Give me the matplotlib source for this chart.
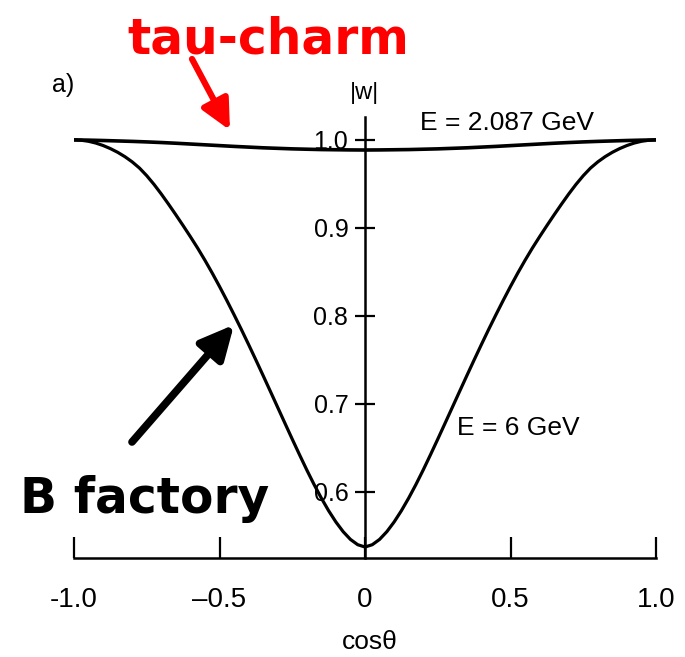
import matplotlib
matplotlib.use("Agg")
import matplotlib.pyplot as plt

# |w| versus cos(theta); curves are symmetric, so only the left half is listed
cos_half = [-1.000, -0.975, -0.950, -0.925, -0.900, -0.875, -0.850, -0.825,
            -0.800, -0.775, -0.750, -0.725, -0.700, -0.675, -0.650, -0.625,
            -0.600, -0.575, -0.550, -0.525, -0.500, -0.475, -0.450, -0.425,
            -0.400, -0.375, -0.350, -0.325, -0.300, -0.275, -0.250, -0.225,
            -0.200, -0.175, -0.150, -0.125, -0.100, -0.075, -0.050, -0.025, 0.000]

# E = 6 GeV
w6_half = [1.0000, 0.9996, 0.9984, 0.9964, 0.9936, 0.9901, 0.9859, 0.9809,
           0.9750, 0.9680, 0.9593, 0.9494, 0.9385, 0.9269, 0.9149, 0.9026,
           0.8900, 0.8770, 0.8632, 0.8487, 0.8335, 0.8177, 0.8014, 0.7847,
           0.7675, 0.7500, 0.7322, 0.7142, 0.6961, 0.6780, 0.6600, 0.6423,
           0.6250, 0.6085, 0.5930, 0.5787, 0.5659, 0.5549, 0.5461, 0.5401, 0.5375]

# E = 2.087 GeV
cos_half_tc = [-1.00, -0.95, -0.90, -0.85, -0.80, -0.75, -0.70, -0.65, -0.60, -0.55,
               -0.50, -0.45, -0.40, -0.35, -0.30, -0.25, -0.20, -0.15, -0.10, -0.05, 0.00]
wtc_half = [1.0000, 0.9997, 0.9993, 0.9988, 0.9983, 0.9977, 0.9970, 0.9962, 0.9953, 0.9944,
            0.9935, 0.9926, 0.9918, 0.9910, 0.9904, 0.9898, 0.9894, 0.9890, 0.9888, 0.9886, 0.9885]

cos_theta = cos_half + [-c for c in cos_half[-2::-1]]
w_6gev = w6_half + w6_half[-2::-1]
cos_theta_tc = cos_half_tc + [-c for c in cos_half_tc[-2::-1]]
w_2087 = wtc_half + wtc_half[-2::-1]

x_ticks = [-1.0, -0.5, 0.0, 0.5, 1.0]
x_labels = ["-1.0", "\u20130.5", "0", "0.5", "1.0"]
y_ticks = [0.6, 0.7, 0.8, 0.9, 1.0]
y_labels = ["0.6", "0.7", "0.8", "0.9", "1.0"]

W, H = 685, 657
plt.rcParams["font.family"] = ["Liberation Sans", "DejaVu Sans"]

fig = plt.figure(figsize=(W / 100, H / 100), dpi=100)


def px(x, y):
    # pixel position (from top-left) -> figure fraction
    return x / W, 1 - y / H


ax = fig.add_axes([74 / W, 1 - 558 / H, 582 / W, 441 / H])
ax.set_xlim(-1, 1)
ax.set_ylim(0.525, 1.026)
ax.patch.set_alpha(0)

ax.plot(cos_theta_tc, w_2087, color="black", lw=2.6, solid_capstyle="round")
ax.plot(cos_theta, w_6gev, color="black", lw=2.3, solid_capstyle="round",
        solid_joinstyle="round")

for s in ["top", "right"]:
    ax.spines[s].set_visible(False)
ax.spines["left"].set_position(("data", 0))
ax.spines["left"].set_linewidth(1.8)
ax.spines["bottom"].set_linewidth(1.8)

ax.set_xticks(x_ticks)
ax.set_xticklabels(x_labels)
ax.set_yticks(y_ticks)
ax.set_yticklabels(y_labels)
ax.tick_params(axis="x", direction="in", length=15, width=1.6, pad=21, labelsize=20)
ax.tick_params(axis="y", direction="inout", length=14, width=1.6, pad=5, labelsize=18)

# the 0.6 label sits on top of the curve
ax.yaxis.get_major_ticks()[0].label1.set_bbox(dict(facecolor="white", edgecolor="none", pad=1))

fig.text(*px(370, 649), "cos\u03b8", ha="center", va="baseline", fontsize=19)
fig.text(*px(364, 99), "|w|", ha="center", va="baseline", fontsize=17)
fig.text(*px(52, 92), "a)", ha="left", va="baseline", fontsize=18)
fig.text(*px(420, 130), "E = 2.087 GeV", ha="left", va="baseline", fontsize=19)
fig.text(*px(457, 435), "E = 6 GeV", ha="left", va="baseline", fontsize=19)

fig.text(*px(268, 53), "tau-charm", ha="center", va="baseline", color="red",
         fontsize=35, fontweight="bold", family="DejaVu Sans")
fig.text(*px(20, 513), "B factory", ha="left", va="baseline", color="black",
         fontsize=35, fontweight="bold", family="DejaVu Sans")

ax.annotate("", xy=(-0.464, 1.011), xycoords="data",
            xytext=px(192, 59), textcoords="figure fraction",
            arrowprops=dict(arrowstyle="-|>,head_length=0.45,head_width=0.22",
                            color="red", lw=4.5, mutation_scale=40,
                            shrinkA=0, shrinkB=0), annotation_clip=False)
ax.annotate("", xy=(-0.45, 0.79), xycoords="data",
            xytext=px(132, 442), textcoords="figure fraction",
            arrowprops=dict(arrowstyle="-|>,head_length=0.45,head_width=0.22",
                            color="black", lw=5.5, mutation_scale=45,
                            shrinkA=0, shrinkB=0))

fig.savefig("out.png", dpi=100)
